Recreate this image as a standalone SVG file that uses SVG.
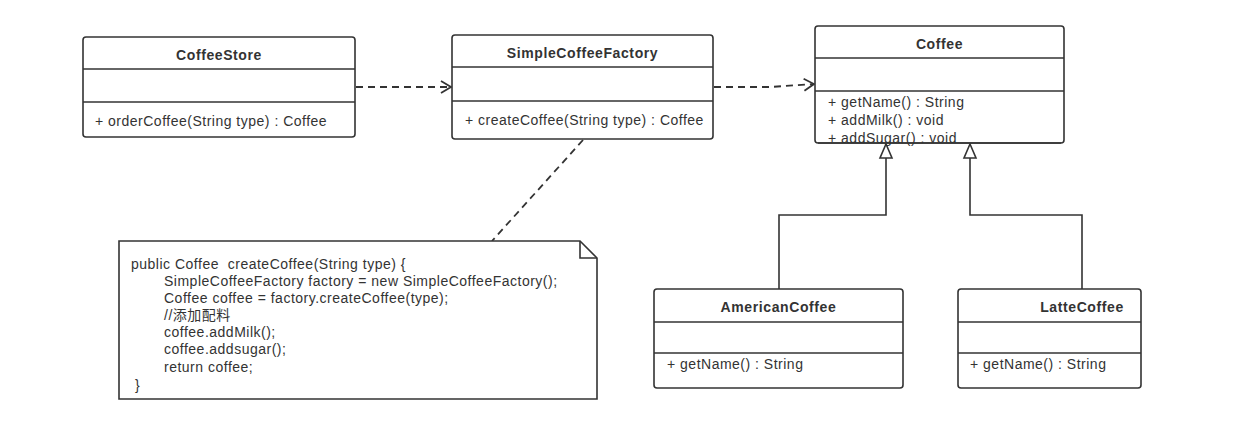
<svg xmlns="http://www.w3.org/2000/svg" width="1254" height="423" viewBox="0 0 1254 423">
<style>
.box{fill:#fff;stroke:#333;stroke-width:1.6}
.div{stroke:#333;stroke-width:1.6}
.t{font-family:"Liberation Sans",Arial,sans-serif;font-size:14px;letter-spacing:0.6px;fill:#333;font-weight:bold;text-anchor:middle;dominant-baseline:central}
.m{font-family:"Liberation Sans",Arial,sans-serif;font-size:14px;letter-spacing:0.5px;fill:#333;dominant-baseline:central}
.n{font-family:"Liberation Sans",Arial,"Noto Sans CJK SC",sans-serif;font-size:14px;letter-spacing:0.5px;fill:#333;dominant-baseline:central}
.dash{fill:none;stroke:#333;stroke-width:1.8;stroke-dasharray:7,5}
.solid{fill:none;stroke:#333;stroke-width:1.6}
.tri{fill:#fff;stroke:#333;stroke-width:1.6}
</style>
<defs>
<marker id="open" markerWidth="14" markerHeight="16" refX="11" refY="7" orient="auto" markerUnits="userSpaceOnUse">
<path d="M1,1 L11,7 L1,13" fill="none" stroke="#333" stroke-width="1.8"/>
</marker>
</defs>
<rect width="1254" height="423" fill="#fff"/>
<g id="connectors">
<path class="dash" d="M356,87 L451,87" marker-end="url(#open)"/>
<path class="dash" d="M714,87 L770,87 L814,84" marker-end="url(#open)"/>
<path class="dash" d="M583,140 L492,241"/>
<path class="solid" d="M779,289 L779,215 L886,215 L886,158"/>
<path class="solid" d="M1082,289 L1082,215 L970,215 L970,158"/>
<path class="tri" d="M886,144 L892,158 L880,158 Z"/>
<path class="tri" d="M970,144 L976,158 L964,158 Z"/>
</g>
<g id="CoffeeStore">
<rect class="box" x="83" y="37" width="272" height="100" rx="3"/>
<line class="div" x1="83" y1="69" x2="355" y2="69"/>
<line class="div" x1="83" y1="102" x2="355" y2="102"/>
<text class="t" x="219" y="55">CoffeeStore</text>
<text class="m" x="95" y="121">+ orderCoffee(String type) : Coffee</text>
</g>
<g id="SimpleCoffeeFactory">
<rect class="box" x="452" y="35" width="261" height="104" rx="3"/>
<line class="div" x1="452" y1="67" x2="713" y2="67"/>
<line class="div" x1="452" y1="101" x2="713" y2="101"/>
<text class="t" x="582.5" y="53">SimpleCoffeeFactory</text>
<text class="m" x="465" y="120">+ createCoffee(String type) : Coffee</text>
</g>
<g id="Coffee">
<rect class="box" x="815" y="26" width="249" height="117" rx="3"/>
<line class="div" x1="815" y1="58" x2="1064" y2="58"/>
<line class="div" x1="815" y1="91" x2="1064" y2="91"/>
<text class="t" x="939.5" y="44">Coffee</text>
<text class="m" x="828" y="102">+ getName() : String</text>
<text class="m" x="828" y="120">+ addMilk() : void</text>
<text class="m" x="828" y="138">+ addSugar() : void</text>
<line class="div" x1="818" y1="143" x2="1061" y2="143"/>
</g>
<g id="AmericanCoffee">
<rect class="box" x="654" y="289" width="249" height="99" rx="3"/>
<line class="div" x1="654" y1="322" x2="903" y2="322"/>
<line class="div" x1="654" y1="353" x2="903" y2="353"/>
<text class="t" x="778.5" y="307">AmericanCoffee</text>
<text class="m" x="667" y="364">+ getName() : String</text>
</g>
<g id="LatteCoffee">
<rect class="box" x="958" y="289" width="183" height="99" rx="3"/>
<line class="div" x1="958" y1="322" x2="1141" y2="322"/>
<line class="div" x1="958" y1="353" x2="1141" y2="353"/>
<text class="t" x="1082" y="307">LatteCoffee</text>
<text class="m" x="970" y="364">+ getName() : String</text>
</g>
<g id="note">
<path class="box" d="M119,241 L580,241 L597,258 L597,399 L119,399 Z"/>
<path class="solid" d="M580,241 L580,258 L597,258"/>
<text class="n" x="131" y="264" xml:space="preserve">public Coffee  createCoffee(String type) {</text>
<text class="n" x="164" y="281">SimpleCoffeeFactory factory = new SimpleCoffeeFactory();</text>
<text class="n" x="164" y="298">Coffee coffee = factory.createCoffee(type);</text>
<text class="n" x="164" y="315">//添加配料</text>
<text class="n" x="164" y="332">coffee.addMilk();</text>
<text class="n" x="164" y="349">coffee.addsugar();</text>
<text class="n" x="164" y="367">return coffee;</text>
<text class="n" x="135" y="385">}</text>
</g>
</svg>
